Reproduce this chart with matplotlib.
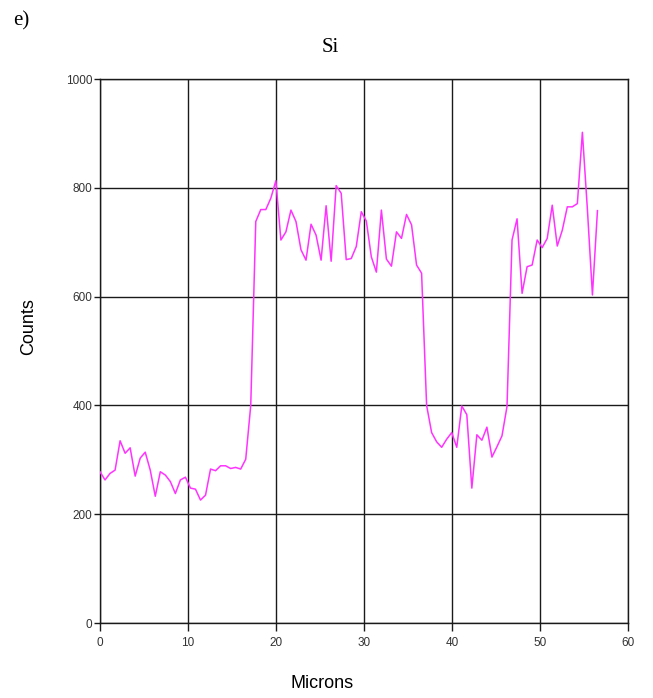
import matplotlib
matplotlib.use("Agg")
import matplotlib.pyplot as plt

# Data (Si counts along a line scan)
step = 0.571
counts = [
    278, 263, 275, 281, 335, 312, 322, 270, 303, 314,
    281, 233, 278, 272, 260, 238, 263, 268, 248, 246,
    226, 235, 283, 280, 289, 289, 284, 286, 283, 301,
    400, 738, 760, 760, 781, 813, 704, 719, 759, 738,
    686, 667, 733, 713, 667, 767, 665, 804, 790, 668,
    670, 692, 756, 739, 673, 645, 759, 669, 656, 719,
    707, 751, 732, 658, 643, 400, 350, 333, 323, 338,
    350, 323, 399, 383, 248, 346, 336, 360, 305, 324,
    344, 398, 704, 743, 606, 655, 658, 704, 690, 707,
    768, 693, 722, 765, 765, 771, 902, 760, 603, 758,
]
microns = [round(i * step, 3) for i in range(len(counts))]

x_ticks = [0, 10, 20, 30, 40, 50, 60]
y_ticks = [0, 200, 400, 600, 800, 1000]

W, H = 653, 698
fig = plt.figure(figsize=(W / 100, H / 100), dpi=100)
ax = fig.add_axes([100 / W, (H - 623) / H, 528 / W, 544 / H])

ax.plot(microns, counts, color="#ff33ff", lw=1.1, zorder=3)

ax.set_xlim(0, 60)
ax.set_ylim(0, 1000)
ax.set_xticks(x_ticks)
ax.set_yticks(y_ticks)
ax.grid(True, color="#1a1a1a", lw=1.0, zorder=1)
ax.set_axisbelow(True)
for s in ax.spines.values():
    s.set_color("#1a1a1a")
    s.set_linewidth(1.0)

ax.tick_params(axis="x", direction="out", length=6, width=1.0, color="#1a1a1a",
               labelsize=8.5, labelcolor="#333333", pad=4)
ax.tick_params(axis="y", direction="out", length=4.5, width=1.0, color="#1a1a1a",
               labelsize=8.5, labelcolor="#333333", pad=1)
for lab in ax.get_xticklabels() + ax.get_yticklabels():
    lab.set_family("Liberation Sans")

fig.text(330 / W, 1 - 47 / H, "Si", family="Liberation Serif", fontsize=15,
         ha="center", va="center")
fig.text(21 / W, 1 - 21 / H, "e)", family="Liberation Serif", fontsize=15,
         ha="center", va="center")
fig.text(29 / W, 1 - 327 / H, "Counts", family="Liberation Sans", fontsize=13,
         rotation=90, ha="center", va="center")
fig.text(322 / W, 1 - 684 / H, "Microns", family="Liberation Sans", fontsize=13,
         ha="center", va="center")

fig.savefig("out.png", dpi=100)
